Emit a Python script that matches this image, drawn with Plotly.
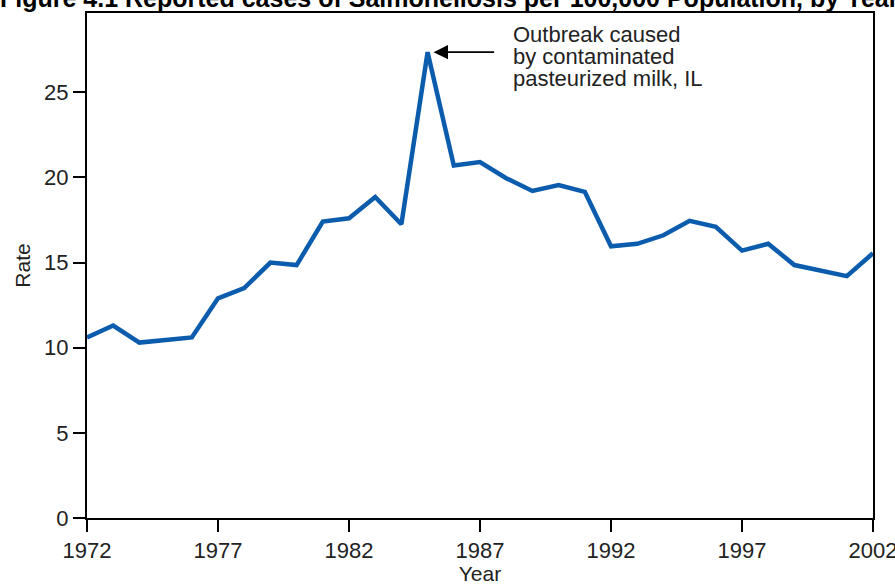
import plotly.graph_objects as go

years = list(range(1972, 2003))
rate = [10.6, 11.3, 10.3, 10.45, 10.6, 12.9, 13.5, 15.0, 14.85, 17.4,
        17.6, 18.85, 17.25, 27.35, 20.7, 20.9, 19.95, 19.2, 19.55, 19.15,
        15.95, 16.1, 16.6, 17.45, 17.1, 15.7, 16.1, 14.85, 14.5, 14.2, 15.55]
x_ticks = [1972, 1977, 1982, 1987, 1992, 1997, 2002]
y_ticks = [0, 5, 10, 15, 20, 25]
title_text = "Figure 4.1 Reported cases of Salmonellosis per 100,000 Population, by Year"
note_lines = ["Outbreak caused", "by contaminated", "pasteurized milk, IL"]
peak_year = 1985
peak_rate = 27.35

fig = go.Figure()
fig.add_trace(go.Scatter(x=years, y=rate, mode="lines",
                         line=dict(color="#0b5cad", width=4.5),
                         showlegend=False, hoverinfo="skip"))

FONT = "Liberation Sans, Arial, sans-serif"

annotations = []
annotations.append(dict(x=peak_year, y=peak_rate, xref="x", yref="y", text="",
                        showarrow=True, ax=68, ay=0, axref="pixel", ayref="pixel",
                        arrowhead=2, arrowsize=1.8, arrowwidth=1.6,
                        arrowcolor="black", standoff=6))
for i, line in enumerate(note_lines):
    annotations.append(dict(x=1988.2, y=28.38 - i * 1.29, xref="x", yref="y",
                            text=line, showarrow=False, xanchor="left",
                            yanchor="middle",
                            font=dict(family=FONT, size=22, color="#222")))
annotations.append(dict(x=-0.113, y=1.0295, xref="paper", yref="paper",
                        text="<b>" + title_text + "</b>", showarrow=False,
                        xanchor="left", yanchor="middle",
                        font=dict(family=FONT, size=25, color="black")))

fig.update_layout(
    width=895, height=585,
    margin=dict(l=87, r=22, t=13, b=67, autoexpand=False),
    paper_bgcolor="white", plot_bgcolor="white",
    font=dict(family=FONT, color="#222"),
    annotations=annotations,
    xaxis=dict(range=[1972, 2002], tickvals=x_ticks, ticktext=[str(v) for v in x_ticks],
               automargin=False, ticklabeloverflow="allow",
               showgrid=False, zeroline=False, showline=True, linecolor="black",
               linewidth=2, mirror=True, ticks="outside", ticklen=12, tickwidth=2,
               tickcolor="black",
               tickfont=dict(family="Liberation Sans Narrow, Arial Narrow, " + FONT, size=22, color="#222"),
               title=dict(text="Year", font=dict(family=FONT, size=21, color="#222"), standoff=0)),
    yaxis=dict(range=[0, 29.65], tickvals=y_ticks,
               automargin=False,
               showgrid=False, zeroline=False, showline=True, linecolor="black",
               linewidth=2, mirror=True, ticks="outside", ticklen=12, tickwidth=2,
               tickcolor="black",
               tickfont=dict(family=FONT, size=22, color="#222"),
               title=dict(text="Rate", font=dict(family=FONT, size=21, color="#222"), standoff=8)),
)

fig.write_html("out.html", config={"displayModeBar": False},
               post_script="document.body.style.margin='0';")
